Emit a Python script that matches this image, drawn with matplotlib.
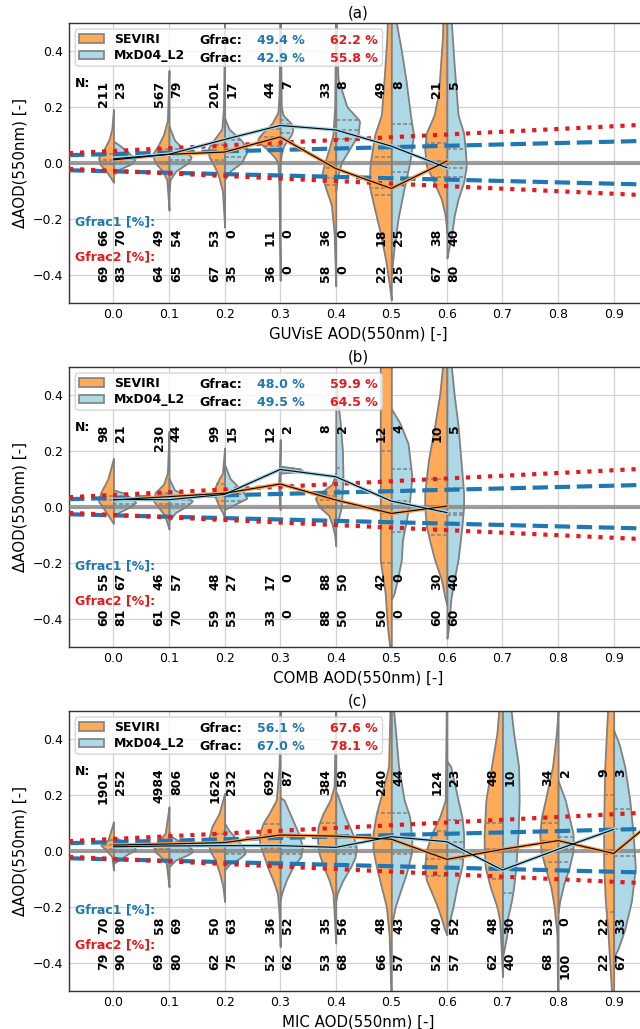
import numpy as np
import matplotlib
matplotlib.use('Agg')
import matplotlib.pyplot as plt
from matplotlib.patches import Patch, FancyBboxPatch
from matplotlib.transforms import IdentityTransform

plt.rcParams['font.family'] = ['DejaVu Sans']
plt.rcParams['font.size'] = 9

# ---------------------------------------------------------------- data
titles = ['(a)', '(b)', '(c)']
xlabels = ['GUVisE AOD(550nm) [-]', 'COMB AOD(550nm) [-]', 'MIC AOD(550nm) [-]']
ylabel = 'ΔAOD(550nm) [-]'
xticks = [0.0, 0.1, 0.2, 0.3, 0.4, 0.5, 0.6, 0.7, 0.8, 0.9]
yticks = [-0.4, -0.2, 0.0, 0.2, 0.4]
series_names = ['SEVIRI', 'MxD04_L2']

# expected-error envelopes (end points)
env_x = [-0.08, 1.0]
ee1_upper = [0.027, 0.08]
ee1_lower = [-0.027, -0.08]
ee2_upper = [0.034, 0.14]
ee2_lower = [-0.022, -0.12]

# ---- panel (a)
a_pos = [0.0, 0.1, 0.2, 0.3, 0.4, 0.5, 0.6]
a_n_sev = [211, 567, 201, 44, 33, 49, 21]
a_n_mxd = [23, 79, 17, 7, 8, 8, 5]
a_g1_sev = [66, 49, 53, 11, 36, 18, 38]
a_g1_mxd = [70, 54, 0, 0, 0, 25, 40]
a_g2_sev = [69, 64, 67, 36, 58, 22, 67]
a_g2_mxd = [83, 65, 35, 0, 0, 25, 80]
a_gfrac_sev = [49.4, 62.2]
a_gfrac_mxd = [42.9, 55.8]
a_line_sev = [0.010, 0.030, 0.038, 0.092, -0.021, -0.092, 0.006]
a_line_mxd = [0.014, 0.030, 0.083, 0.133, 0.117, 0.059, -0.018]
a_q_sev = [(-0.005, 0.01, 0.03), (0.0, 0.03, 0.05), (0.01, 0.038, 0.065), (0.06, 0.092, 0.12),
           (-0.08, -0.055, -0.02), (-0.115, -0.092, 0.02), (-0.05, 0.006, 0.07)]
a_q_mxd = [(0.0, 0.014, 0.03), (0.01, 0.03, 0.05), (0.02, 0.05, 0.08), (0.107, 0.137, 0.152),
           (0.085, 0.116, 0.152), (-0.033, 0.059, 0.14), (-0.05, -0.018, 0.05)]
a_prof_sev = [
    [(0.19, 0), (0.12, 0.003), (0.083, 0.008), (0.048, 0.017), (0.018, 0.027), (-0.006, 0.024), (-0.03, 0.013), (-0.06, 0.003), (-0.07, 0)],
    [(0.33, 0), (0.15, 0.003), (0.10, 0.01), (0.06, 0.02), (0.03, 0.03), (0.0, 0.025), (-0.03, 0.012), (-0.06, 0.004), (-0.17, 0)],
    [(0.55, 0), (0.2, 0.002), (0.12, 0.005), (0.08, 0.02), (0.05, 0.03), (0.02, 0.028), (0.0, 0.022), (-0.04, 0.012), (-0.1, 0.004), (-0.23, 0)],
    [(0.55, 0), (0.25, 0.002), (0.18, 0.004), (0.14, 0.015), (0.1, 0.035), (0.08, 0.042), (0.05, 0.025), (0.02, 0.01), (0.0, 0.004), (-0.1, 0.002), (-0.42, 0)],
    [(0.55, 0), (0.2, 0.002), (0.1, 0.005), (0.05, 0.012), (0.0, 0.02), (-0.04, 0.025), (-0.08, 0.02), (-0.15, 0.008), (-0.25, 0.003), (-0.44, 0)],
    [(0.7, 0.005), (0.45, 0.008), (0.3, 0.013), (0.17, 0.018), (0.1, 0.03), (0.0, 0.038), (-0.08, 0.04), (-0.15, 0.032), (-0.25, 0.02), (-0.35, 0.01), (-0.43, 0.004), (-0.49, 0)],
    [(0.7, 0.005), (0.45, 0.008), (0.25, 0.015), (0.17, 0.023), (0.107, 0.037), (0.048, 0.04), (-0.012, 0.037), (-0.071, 0.023), (-0.13, 0.01), (-0.19, 0.003), (-0.25, 0)],
]
a_prof_mxd = [
    [(0.077, 0), (0.059, 0.013), (0.036, 0.027), (0.012, 0.039), (-0.006, 0.03), (-0.024, 0.01), (-0.042, 0)],
    [(0.13, 0), (0.08, 0.01), (0.04, 0.03), (0.02, 0.04), (0.0, 0.035), (-0.03, 0.012), (-0.06, 0.002), (-0.1, 0)],
    [(0.16, 0), (0.12, 0.008), (0.08, 0.03), (0.045, 0.042), (0.0, 0.03), (-0.03, 0.01), (-0.06, 0)],
    [(0.55, 0), (0.2, 0.002), (0.17, 0.005), (0.14, 0.02), (0.12, 0.023), (0.1, 0.02), (0.06, 0.006), (0.03, 0.002), (0.0, 0)],
    [(0.55, 0), (0.3, 0.004), (0.2, 0.02), (0.15, 0.043), (0.1, 0.04), (0.05, 0.025), (0.0, 0.01), (-0.05, 0.003), (-0.1, 0)],
    [(0.7, 0.004), (0.5, 0.009), (0.4, 0.018), (0.3, 0.026), (0.16, 0.035), (0.1, 0.04), (0.0, 0.033), (-0.1, 0.022), (-0.2, 0.012), (-0.3, 0.005), (-0.4, 0)],
    [(0.7, 0.003), (0.5, 0.008), (0.35, 0.013), (0.17, 0.02), (0.107, 0.03), (0.048, 0.033), (-0.012, 0.035), (-0.071, 0.03), (-0.13, 0.02), (-0.19, 0.013), (-0.25, 0.009), (-0.32, 0.002), (-0.34, 0)],
]

# ---- panel (b)
b_pos = [0.0, 0.1, 0.2, 0.3, 0.4, 0.5, 0.6]
b_n_sev = [98, 230, 99, 12, 8, 12, 10]
b_n_mxd = [21, 44, 15, 2, 2, 4, 5]
b_g1_sev = [55, 46, 48, 17, 88, 42, 30]
b_g1_mxd = [67, 57, 27, 0, 50, 0, 40]
b_g2_sev = [60, 61, 59, 33, 88, 50, 60]
b_g2_mxd = [81, 70, 53, 0, 50, 0, 60]
b_gfrac_sev = [48.0, 59.9]
b_gfrac_mxd = [49.5, 64.5]
b_line_sev = [0.024, 0.036, 0.048, 0.081, 0.024, -0.024, 0.002]
b_line_mxd = [0.026, 0.025, 0.044, 0.133, 0.107, 0.020, -0.021]
b_q_sev = [(0.0, 0.024, 0.04), (0.01, 0.036, 0.05), (0.02, 0.048, 0.08), (0.06, 0.081, 0.1),
           (0.0, 0.024, 0.04), (-0.2, -0.024, 0.2), (-0.1, 0.002, 0.1)]
b_q_mxd = [(0.01, 0.026, 0.04), (0.01, 0.025, 0.04), (0.02, 0.044, 0.06), (0.128, 0.133, 0.138),
           (0.06, 0.107, 0.137), (-0.09, 0.02, 0.134), (-0.03, -0.021, 0.068)]
b_prof_sev = [
    [(0.173, 0), (0.1, 0.01), (0.05, 0.023), (0.02, 0.027), (0.0, 0.02), (-0.03, 0.01), (-0.06, 0)],
    [(0.27, 0), (0.12, 0.003), (0.08, 0.01), (0.05, 0.025), (0.02, 0.028), (0.0, 0.02), (-0.03, 0.008), (-0.08, 0)],
    [(0.21, 0), (0.12, 0.004), (0.1, 0.01), (0.07, 0.017), (0.04, 0.018), (0.0, 0.01), (-0.02, 0.004), (-0.04, 0)],
    [(0.24, 0), (0.15, 0.001), (0.08, 0.003), (0.0, 0.001), (-0.01, 0)],
    [(0.12, 0), (0.08, 0.007), (0.05, 0.027), (0.03, 0.037), (0.0, 0.03), (-0.03, 0.013), (-0.06, 0.007), (-0.1, 0.002), (-0.14, 0)],
    [(0.7, 0.02), (0.4, 0.02), (0.2, 0.02), (0.0, 0.02), (-0.19, 0.02), (-0.31, 0.011), (-0.43, 0.007), (-0.5, 0.003)],
    [(0.7, 0.003), (0.52, 0.007), (0.4, 0.013), (0.29, 0.022), (0.17, 0.033), (0.05, 0.04), (0.0, 0.04), (-0.07, 0.037), (-0.13, 0.03), (-0.19, 0.022), (-0.26, 0.01), (-0.33, 0.003), (-0.35, 0)],
]
b_prof_mxd = [
    [(0.06, 0), (0.05, 0.017), (0.03, 0.033), (0.015, 0.04), (0.0, 0.03), (-0.02, 0.01), (-0.035, 0)],
    [(0.1, 0), (0.06, 0.01), (0.04, 0.03), (0.02, 0.042), (0.0, 0.03), (-0.02, 0.012), (-0.05, 0)],
    [(0.15, 0), (0.1, 0.01), (0.07, 0.025), (0.05, 0.035), (0.03, 0.04), (0.01, 0.02), (-0.01, 0)],
    [(0.145, 0), (0.135, 0.035), (0.13, 0.04), (0.125, 0.035), (0.12, 0)],
    [(0.44, 0), (0.3, 0.008), (0.2, 0.012), (0.1, 0.013), (0.0, 0.01), (-0.05, 0.004), (-0.07, 0)],
    [(0.35, 0), (0.3, 0.015), (0.226, 0.03), (0.107, 0.037), (0.024, 0.033), (-0.048, 0.027), (-0.119, 0.02), (-0.19, 0.018), (-0.25, 0.012), (-0.31, 0.005), (-0.33, 0)],
    [(0.7, 0.003), (0.52, 0.007), (0.4, 0.013), (0.29, 0.02), (0.17, 0.025), (0.05, 0.03), (0.0, 0.03), (-0.07, 0.027), (-0.19, 0.02), (-0.26, 0.013), (-0.33, 0.007), (-0.43, 0.003), (-0.47, 0)],
]

# ---- panel (c)
c_pos = [0.0, 0.1, 0.2, 0.3, 0.4, 0.5, 0.6, 0.7, 0.8, 0.9]
c_n_sev = [1901, 4984, 1626, 692, 384, 240, 124, 48, 34, 9]
c_n_mxd = [252, 806, 232, 87, 59, 44, 23, 10, 2, 3]
c_g1_sev = [70, 58, 50, 36, 35, 48, 40, 48, 53, 22]
c_g1_mxd = [80, 69, 63, 52, 56, 43, 52, 30, 0, 33]
c_g2_sev = [79, 69, 62, 52, 53, 66, 52, 62, 68, 22]
c_g2_mxd = [90, 80, 75, 62, 68, 57, 57, 40, 100, 67]
c_gfrac_sev = [56.1, 67.6]
c_gfrac_mxd = [67.0, 78.1]
c_line_pos_sev = [0.0, 0.1, 0.2, 0.3, 0.4, 0.5, 0.6, 0.7, 0.8, 0.9, 1.0]
c_line_sev = [0.020, 0.024, 0.029, 0.056, 0.052, 0.041, -0.031, 0.005, 0.036, -0.010, 0.154]
c_line_mxd = [0.014, 0.017, 0.018, 0.018, 0.012, 0.050, 0.032, -0.069, 0.005, 0.076]
c_q_sev = [(0.005, 0.02, 0.04), (0.005, 0.024, 0.04), (0.0, 0.029, 0.06), (0.01, 0.056, 0.095),
           (0.0, 0.052, 0.1), (-0.05, 0.041, 0.135), (-0.09, -0.031, 0.07), (-0.1, 0.005, 0.1),
           (-0.04, 0.036, 0.1), (-0.22, -0.01, 0.2)]
c_q_mxd = [(0.0, 0.014, 0.03), (0.0, 0.017, 0.03), (-0.01, 0.018, 0.04), (-0.01, 0.018, 0.05),
           (-0.01, 0.012, 0.05), (-0.01, 0.05, 0.135), (-0.03, 0.032, 0.11), (-0.15, -0.069, 0.0),
           (-0.04, 0.005, 0.05), (-0.02, 0.076, 0.15)]
c_prof_sev = [
    [(0.103, 0), (0.038, 0.01), (0.02, 0.023), (0.002, 0.013), (-0.021, 0.003), (-0.069, 0)],
    [(0.157, 0), (0.062, 0.007), (0.038, 0.018), (0.014, 0.028), (-0.004, 0.025), (-0.021, 0.015), (-0.045, 0.005), (-0.129, 0)],
    [(0.205, 0), (0.133, 0.01), (0.086, 0.023), (0.038, 0.029), (0.002, 0.027), (-0.033, 0.017), (-0.081, 0.009), (-0.129, 0.003), (-0.182, 0)],
    [(0.55, 0), (0.3, 0.002), (0.181, 0.007), (0.133, 0.02), (0.098, 0.031), (0.062, 0.037), (0.026, 0.037), (-0.01, 0.031), (-0.057, 0.023), (-0.105, 0.013), (-0.152, 0.005), (-0.224, 0.002), (-0.343, 0)],
    [(0.55, 0), (0.229, 0.003), (0.181, 0.01), (0.133, 0.023), (0.086, 0.032), (0.038, 0.033), (-0.01, 0.03), (-0.057, 0.022), (-0.105, 0.012), (-0.152, 0.005), (-0.33, 0)],
    [(0.55, 0.002), (0.3, 0.005), (0.205, 0.017), (0.133, 0.027), (0.062, 0.033), (0.002, 0.033), (-0.057, 0.027), (-0.129, 0.018), (-0.2, 0.009), (-0.3, 0.004), (-0.5, 0.001)],
    [(0.55, 0.001), (0.181, 0.003), (0.121, 0.013), (0.062, 0.027), (0.002, 0.037), (-0.057, 0.04), (-0.105, 0.037), (-0.152, 0.027), (-0.2, 0.017), (-0.248, 0.009), (-0.283, 0.004), (-0.3, 0)],
    [(0.6, 0.003), (0.42, 0.01), (0.3, 0.02), (0.18, 0.03), (0.06, 0.033), (0.0, 0.033), (-0.06, 0.031), (-0.13, 0.022), (-0.2, 0.01), (-0.25, 0.005), (-0.45, 0)],
    [(0.5, 0), (0.42, 0.003), (0.3, 0.01), (0.18, 0.023), (0.12, 0.03), (0.06, 0.033), (0.0, 0.031), (-0.06, 0.023), (-0.13, 0.013), (-0.2, 0.007), (-0.3, 0.002), (-0.5, 0.001)],
    [(0.7, 0.011), (0.5, 0.011), (0.3, 0.016), (0.1, 0.018), (-0.05, 0.018), (-0.18, 0.015), (-0.3, 0.01), (-0.4, 0.007), (-0.5, 0.004)],
]
c_prof_mxd = [
    [(0.05, 0), (0.038, 0.013), (0.014, 0.037), (0.002, 0.04), (-0.01, 0.027), (-0.033, 0.01), (-0.045, 0)],
    [(0.068, 0), (0.05, 0.005), (0.026, 0.025), (0.008, 0.04), (-0.004, 0.042), (-0.016, 0.032), (-0.033, 0.012), (-0.057, 0)],
    [(0.098, 0), (0.074, 0.007), (0.038, 0.023), (0.008, 0.035), (-0.01, 0.037), (-0.027, 0.027), (-0.045, 0.01), (-0.069, 0)],
    [(0.19, 0), (0.181, 0.007), (0.121, 0.02), (0.062, 0.033), (0.014, 0.04), (-0.022, 0.037), (-0.057, 0.023), (-0.105, 0.011), (-0.15, 0.003), (-0.176, 0)],
    [(0.21, 0), (0.2, 0.003), (0.121, 0.017), (0.062, 0.03), (0.014, 0.037), (-0.022, 0.035), (-0.057, 0.027), (-0.105, 0.013), (-0.15, 0.003), (-0.176, 0)],
    [(0.55, 0.002), (0.3, 0.013), (0.181, 0.023), (0.121, 0.033), (0.038, 0.037), (-0.01, 0.036), (-0.081, 0.027), (-0.152, 0.015), (-0.2, 0.007), (-0.27, 0)],
    [(0.32, 0), (0.3, 0.007), (0.181, 0.02), (0.121, 0.027), (0.062, 0.03), (0.0, 0.03), (-0.057, 0.027), (-0.129, 0.018), (-0.2, 0.011), (-0.25, 0.005), (-0.27, 0)],
    [(0.6, 0.01), (0.42, 0.02), (0.3, 0.029), (0.18, 0.03), (0.06, 0.028), (-0.06, 0.024), (-0.13, 0.02), (-0.18, 0.016), (-0.25, 0.008), (-0.3, 0.008), (-0.35, 0.003), (-0.38, 0)],
    [(0.25, 0), (0.18, 0.013), (0.06, 0.027), (0.0, 0.027), (-0.06, 0.02), (-0.12, 0.01), (-0.18, 0.003), (-0.22, 0)],
    [(0.43, 0), (0.38, 0.01), (0.3, 0.02), (0.18, 0.029), (0.06, 0.035), (-0.06, 0.039), (-0.18, 0.032), (-0.28, 0.02), (-0.35, 0.008), (-0.38, 0)],
]

# ---------------------------------------------------------------- style
C_SEV = '#ffaa58'
C_MXD = '#add8e6'
C_EDGE = '#808080'
C_BLUE = '#1f77b4'
C_RED = '#e41a1c'
XLIM = (-0.08, 0.96)
YLIM = (-0.5, 0.5)
DX_SEV = -0.018
DX_MXD = 0.013

W, H = 640, 1029
fig = plt.figure(figsize=(W / 100, H / 100), dpi=100)
ax_left, ax_right = 69, 647
ax_h = 280
tops = [22.7, 366.7, 710.7]
axes = [fig.add_axes([ax_left / W, 1 - (t + ax_h) / H, (ax_right - ax_left) / W, ax_h / H]) for t in tops]


def half_violin(ax, pos, prof, side, color, quarts):
    ys = np.array([p[0] for p in prof], float)
    ws = np.array([p[1] for p in prof], float)
    o = np.argsort(ys)
    ys, ws = ys[o], ws[o]
    yy = np.linspace(ys[0], ys[-1], 500)
    ww = np.interp(yy, ys, ws)
    k = np.ones(9) / 9
    ww = np.convolve(np.pad(ww, 4, mode='edge'), k, mode='valid')
    sgn = -1 if side == 'left' else 1
    ax.fill_betweenx(yy, pos, pos + sgn * ww, facecolor=color, edgecolor=C_EDGE,
                     linewidth=1.3, zorder=2)
    for q in quarts:
        wq = np.interp(q, yy, ww)
        ax.plot([pos, pos + sgn * wq], [q, q], color=C_EDGE, ls=(0, (2.5, 1.5)),
                lw=1.1, zorder=2.5)


panels = [
    dict(pos=a_pos, ps=a_prof_sev, pm=a_prof_mxd, qs=a_q_sev, qm=a_q_mxd,
         lps=a_pos, ls_=a_line_sev, lpm=a_pos, lm=a_line_mxd,
         ns=a_n_sev, nm=a_n_mxd, g1s=a_g1_sev, g1m=a_g1_mxd, g2s=a_g2_sev, g2m=a_g2_mxd,
         gs=a_gfrac_sev, gm=a_gfrac_mxd),
    dict(pos=b_pos, ps=b_prof_sev, pm=b_prof_mxd, qs=b_q_sev, qm=b_q_mxd,
         lps=b_pos, ls_=b_line_sev, lpm=b_pos, lm=b_line_mxd,
         ns=b_n_sev, nm=b_n_mxd, g1s=b_g1_sev, g1m=b_g1_mxd, g2s=b_g2_sev, g2m=b_g2_mxd,
         gs=b_gfrac_sev, gm=b_gfrac_mxd),
    dict(pos=c_pos, ps=c_prof_sev, pm=c_prof_mxd, qs=c_q_sev, qm=c_q_mxd,
         lps=c_line_pos_sev, ls_=c_line_sev, lpm=c_pos, lm=c_line_mxd,
         ns=c_n_sev, nm=c_n_mxd, g1s=c_g1_sev, g1m=c_g1_mxd, g2s=c_g2_sev, g2m=c_g2_mxd,
         gs=c_gfrac_sev, gm=c_gfrac_mxd),
]

legends = []
for ax, P, title, xl in zip(axes, panels, titles, xlabels):
    ax.set_xlim(*XLIM)
    ax.set_ylim(*YLIM)
    ax.set_autoscale_on(False)
    ax.set_xticks(xticks)
    ax.set_xticklabels([f'{v:.1f}' for v in xticks])
    ax.set_yticks(yticks)
    ax.set_yticklabels([f'{v:.1f}'.replace('-', '\u2212') for v in yticks])
    ax.tick_params(length=0, labelsize=9, pad=4)
    ax.grid(True, color='#d3d3d3', lw=0.9)
    ax.set_axisbelow(True)
    for s in ax.spines.values():
        s.set_color('#333333')
        s.set_linewidth(1.0)
    ax.set_title(title, fontsize=10.8, pad=4)
    ax.set_xlabel(xl, fontsize=10.8)
    ax.set_ylabel(ylabel, fontsize=10.8)

    for i, p in enumerate(P['pos']):
        half_violin(ax, p, P['ps'][i], 'left', C_SEV, P['qs'][i])
        half_violin(ax, p, P['pm'][i], 'right', C_MXD, P['qm'][i])

    ax.axhline(0, color='gray', lw=3, alpha=0.75, zorder=3)
    ax.plot(env_x, ee1_upper, color=C_BLUE, ls='--', lw=3, zorder=4)
    ax.plot(env_x, ee1_lower, color=C_BLUE, ls='--', lw=3, zorder=4)
    ax.plot(env_x, ee2_upper, color=C_RED, ls=':', lw=3, zorder=4)
    ax.plot(env_x, ee2_lower, color=C_RED, ls=':', lw=3, zorder=4)

    ax.plot(P['lps'], P['ls_'], color='#ff9a3c', lw=2.6, zorder=5)
    ax.plot(P['lps'], P['ls_'], color='k', lw=0.8, zorder=6)
    ax.plot(P['lpm'], P['lm'], color='#9fd3e6', lw=2.6, zorder=5)
    ax.plot(P['lpm'], P['lm'], color='k', lw=0.8, zorder=6)

    tkw = dict(rotation=90, fontsize=9, fontweight='bold', ha='center', va='top', zorder=7)
    ax.text(-0.07, 0.305, 'N:', fontsize=9, fontweight='bold', ha='left', va='top', zorder=7)
    ax.text(-0.07, -0.213, 'Gfrac1 [%]:', color=C_BLUE, fontsize=9, fontweight='bold',
            ha='left', va='center', zorder=7)
    ax.text(-0.07, -0.337, 'Gfrac2 [%]:', color=C_RED, fontsize=9, fontweight='bold',
            ha='left', va='center', zorder=7)
    for i, p in enumerate(P['pos']):
        ax.text(p + DX_SEV, 0.293, str(P['ns'][i]), **tkw)
        ax.text(p + DX_MXD, 0.293, str(P['nm'][i]), **tkw)
        ax.text(p + DX_SEV, -0.236, str(P['g1s'][i]), **tkw)
        ax.text(p + DX_MXD, -0.236, str(P['g1m'][i]), **tkw)
        ax.text(p + DX_SEV, -0.365, str(P['g2s'][i]), **tkw)
        ax.text(p + DX_MXD, -0.365, str(P['g2m'][i]), **tkw)

    handles = [Patch(facecolor=C_SEV, edgecolor=C_EDGE, lw=1.2),
               Patch(facecolor=C_MXD, edgecolor=C_EDGE, lw=1.2)]
    leg = ax.legend(handles, series_names, loc='upper left',
                    prop={'weight': 'bold', 'size': 9}, borderpad=0.3,
                    labelspacing=0.3, handlelength=2.0, handletextpad=0.8,
                    borderaxespad=0.5, frameon=False)
    leg.set_zorder(7)
    legends.append(leg)

    rows_y = [0.438, 0.3725]
    for yv, g in zip(rows_y, [P['gs'], P['gm']]):
        ax.text(0.155, yv, 'Gfrac:', fontsize=9, fontweight='bold', ha='left', va='center', zorder=8)
        ax.text(0.258, yv, f'{g[0]:.1f} %', color=C_BLUE, fontsize=9, fontweight='bold',
                ha='left', va='center', zorder=8)
        ax.text(0.389, yv, f'{g[1]:.1f} %', color=C_RED, fontsize=9, fontweight='bold',
                ha='left', va='center', zorder=8)

# legend frames widened so the Gfrac columns sit inside them
fig.canvas.draw()
r = fig.canvas.get_renderer()
target_right = 382.5
for ax, leg in zip(axes, legends):
    bb = leg.get_window_extent(r)
    frame = FancyBboxPatch((bb.x0, bb.y0), target_right - bb.x0, bb.height,
                           boxstyle='round,pad=0,rounding_size=4',
                           transform=IdentityTransform(), facecolor='white',
                           edgecolor='0.8', linewidth=1.0, alpha=0.8, zorder=6.8)
    ax.add_artist(frame)

fig.savefig('out.png', dpi=100)
